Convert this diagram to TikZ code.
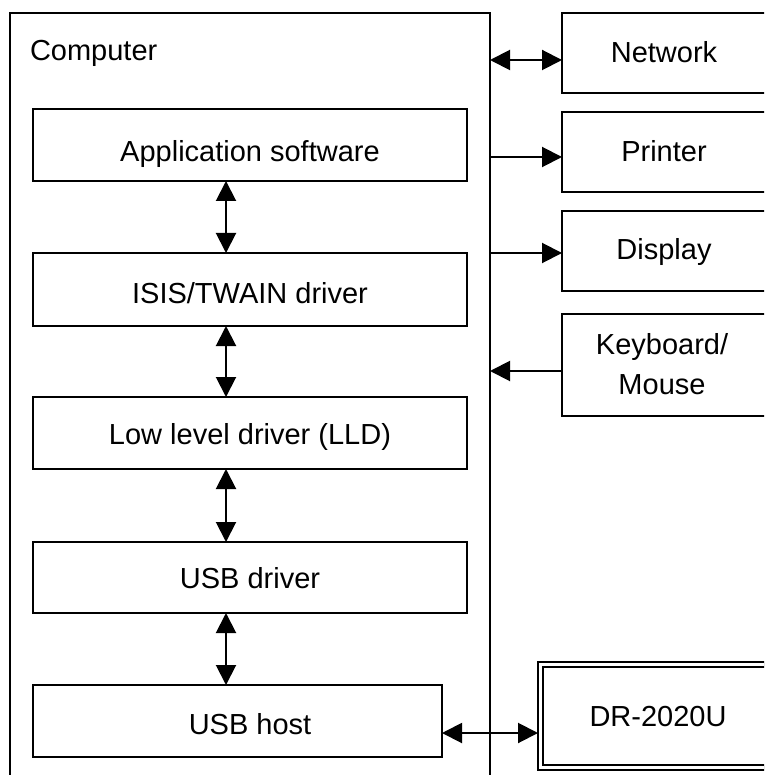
\documentclass[tikz,border=0pt]{standalone}
\usepackage{fontspec}
\setmainfont{Liberation Sans}
\usetikzlibrary{arrows.meta}
\begin{document}
\begin{tikzpicture}[x=1pt,y=-1pt,
  line width=2pt, line join=miter,
  every node/.style={font=\fontsize{29}{40}\selectfont},
  box/.style={draw, rectangle, inner sep=0pt, outer sep=0pt, anchor=north west, align=center},
  openbox/.style={rectangle, inner sep=0pt, outer sep=0pt, anchor=north west},
  lbl/.style={anchor=base, inner sep=0pt},
  tip/.style={-{Triangle[length=20pt,width=20pt]}},
  bitip/.style={{Triangle[length=20pt,width=20pt]}-{Triangle[length=20pt,width=20pt]}}
]
\useasboundingbox (0,0) rectangle (764,775);
\clip (0,0) rectangle (764,775);

% computer frame, open at the bottom
\node[openbox, minimum width=480pt, minimum height=800pt] (comp) at (10,13) {};
\draw (comp.south west) -- (comp.north west) -- (comp.north east) -- (comp.south east);
\node[anchor=base west, inner sep=0pt] (complabel) at (29,61) {Computer};

% software stack inside the computer
\node[box, minimum width=434pt, minimum height=72pt] (app)  at (33,109) {};
\node[box, minimum width=434pt, minimum height=73pt] (isis) at (33,253) {};
\node[box, minimum width=434pt, minimum height=72pt] (lld)  at (33,397) {};
\node[box, minimum width=434pt, minimum height=71pt] (usbd) at (33,542) {};
\node[box, minimum width=409pt, minimum height=72pt] (host) at (33,685) {};
\node[lbl] (applabel)  at (250,162) {Application software};
\node[lbl] (isislabel) at (250,303) {ISIS/TWAIN driver};
\node[lbl] (lldlabel)  at (250,444) {Low level driver (LLD)};
\node[lbl] (usbdlabel) at (250,588) {USB driver};
\node[lbl] (hostlabel) at (250,734) {USB host};

% peripherals, running past the right margin (no right side)
\node[openbox, minimum width=220pt, minimum height=80pt]  (net)  at (562,13)  {};
\node[openbox, minimum width=220pt, minimum height=80pt]  (prn)  at (562,112) {};
\node[openbox, minimum width=220pt, minimum height=80pt]  (disp) at (562,211) {};
\node[openbox, minimum width=220pt, minimum height=102pt] (kbd)  at (562,314) {};
\node[openbox, minimum width=250pt, minimum height=103pt] (dr)   at (540.5,664.5) {};
\foreach \b in {net,prn,disp,kbd}
  \draw (\b.north east) -- (\b.north west) -- (\b.south west) -- (\b.south east);
\draw[double, line width=1.8pt, double distance=3.2pt]
  (dr.north east) -- (dr.north west) -- (dr.south west) -- (dr.south east);
\node[lbl] (netlabel)  at (664,63)  {Network};
\node[lbl] (prnlabel)  at (664,162) {Printer};
\node[lbl] (displabel) at (664,260) {Display};
\node[lbl] (kbdlabel)  at (662,354) {Keyboard/};
\node[lbl] (kbdlabel2) at (662,394) {Mouse};
\node[lbl] (drlabel)   at (658,726) {DR-2020U};

% vertical links in the stack
\coordinate (vx) at (226,0);
\draw[bitip] (vx |- app.south)  -- (vx |- isis.north);
\draw[bitip] (vx |- isis.south) -- (vx |- lld.north);
\draw[bitip] (vx |- lld.south)  -- (vx |- usbd.north);
\draw[bitip] (vx |- usbd.south) -- (vx |- host.north);

% links between computer and peripherals
\coordinate (ny) at (0,60);
\coordinate (py) at (0,157);
\coordinate (dy) at (0,253);
\coordinate (ky) at (0,371);
\coordinate (uy) at (0,733);
\draw[bitip] (comp.east |- ny) -- (net.west |- ny);
\draw[tip]   (comp.east |- py) -- (prn.west |- py);
\draw[tip]   (comp.east |- dy) -- (disp.west |- dy);
\draw[tip]   (kbd.west |- ky) -- (comp.east |- ky);
\draw[bitip] (host.east |- uy) -- ([xshift=-2.5pt]dr.west |- uy);
\end{tikzpicture}
\end{document}
